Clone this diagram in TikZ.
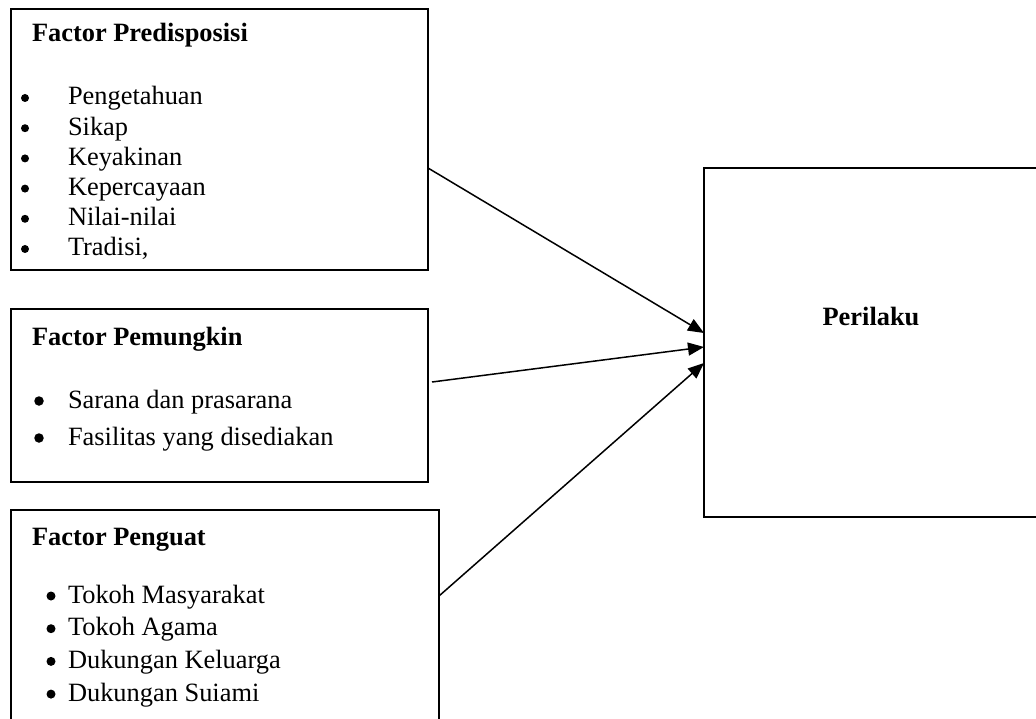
\documentclass[tikz,border=0pt]{standalone}
\usepackage{fontspec}
\setmainfont{Liberation Serif}
\usetikzlibrary{arrows.meta}
\begin{document}
\begin{tikzpicture}[x=1pt,y=-1pt,
  box/.style={draw=black,line width=1.6pt,anchor=north west,inner sep=0pt,outer sep=0pt},
  txt/.style={inner sep=0pt,outer sep=0pt,font=\fontsize{26.4}{30}\selectfont},
  head/.style={txt,font=\fontsize{26.4}{30}\selectfont\bfseries,anchor=base west},
  item/.style={txt,anchor=base west},
  dot/.style={circle,fill=black,inner sep=0pt,outer sep=0pt,minimum size=#1},
  dot/.default=8.5pt,
  link/.style={line width=1.5pt,-{Triangle[length=16pt,width=13pt]}}]
\useasboundingbox (0,0) rectangle (1036,719);

% the four boxes
\node[box,minimum width=417pt,minimum height=261pt] (pre) at (11,9) {};
\node[box,minimum width=417pt,minimum height=173pt] (pem) at (11,309) {};
\node[box,minimum width=428pt,minimum height=240pt] (pen) at (11,510) {};
\node[box,minimum width=360pt,minimum height=349pt] (beh) at (704,168) {};

% headings
\node[head] (preT) at (32,42) {Factor Predisposisi};
\node[head] (pemT) at (32,345) {Factor Pemungkin};
\node[head] (penT) at (32,545) {Factor Penguat};
\node[txt,font=\fontsize{26.4}{30}\selectfont\bfseries,anchor=base] (behT) at (871,326) {Perilaku};

% predisposing factors
\foreach \t [count=\i] in {Pengetahuan,Sikap,Keyakinan,Kepercayaan,Nilai-nilai,{Tradisi,}} {
  \node[dot=8pt] (preB\i) at (25,{105+30.2*(\i-1)-7}) {};
  \node[item] (preI\i) at (68,{105+30.2*(\i-1)}) {\t};
}

% enabling factors
\foreach \t [count=\i] in {Sarana dan prasarana,Fasilitas yang disediakan} {
  \node[dot=9.5pt] (pemB\i) at (39,{408+37*(\i-1)-7}) {};
  \node[item] (pemI\i) at (68,{408+37*(\i-1)}) {\t};
}

% reinforcing factors
\foreach \t [count=\i] in {Tokoh Masyarakat,Tokoh Agama,Dukungan Keluarga,Dukungan Suiami} {
  \node[dot=9pt] (penB\i) at (51,{603+32.7*(\i-1)-7}) {};
  \node[item] (penI\i) at (68,{603+32.7*(\i-1)}) {\t};
}

% arrow ends
\coordinate (s1) at (pre.east |- 0,168);
\coordinate (s2) at ([xshift=4pt]pem.east |- 0,382);
\coordinate (s3) at (pen.east |- 0,596);
\coordinate (e1) at (beh.west |- 0,333);
\coordinate (e2) at (beh.west |- 0,347);
\coordinate (e3) at (beh.west |- 0,363);

\draw[link] (s1) -- (e1);
\draw[link] (s2) -- (e2);
\draw[link] (s3) -- (e3);
\end{tikzpicture}
\end{document}
